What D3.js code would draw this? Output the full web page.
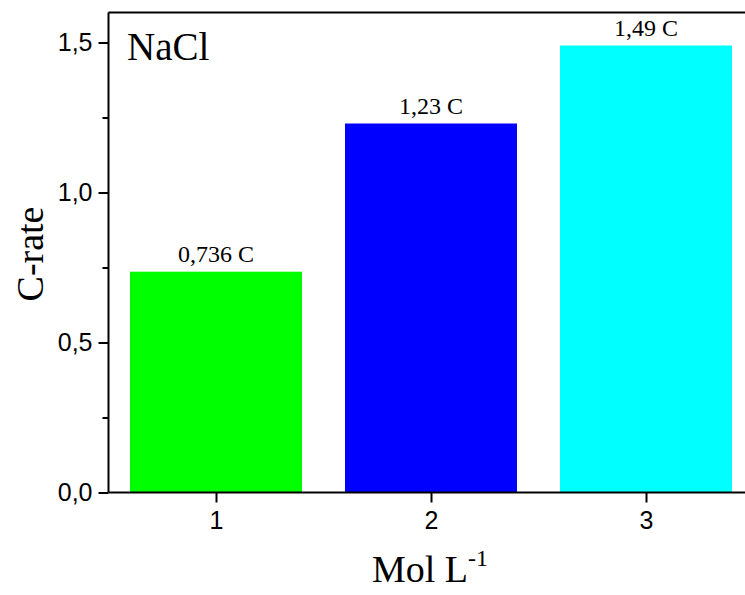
<!DOCTYPE html>
<html>
<head>
<meta charset="utf-8">
<script src="https://cdn.jsdelivr.net/npm/d3@7"></script>
<style>
  html, body { margin: 0; padding: 0; background: #fff; }
  svg { display: block; }
</style>
</head>
<body>
<svg id="chart" width="745" height="595"></svg>
<script>
// Concentrations (mol/L) and the measured C-rate for each
const categories = [1, 2, 3];
const cRates = [0.736, 1.23, 1.49];
const barLabels = ["0,736 C", "1,23 C", "1,49 C"];
const barColors = ["#00ff00", "#0000ff", "#00ffff"];
const yTicks = [0, 0.5, 1.0, 1.5];
const yMinorTicks = [0.25, 0.75, 1.25];
const yTickLabels = ["0,0", "0,5", "1,0", "1,5"];

const svg = d3.select("#chart");
const serif = "'Liberation Serif', 'Times New Roman', serif";
const sans = "'Liberation Sans', Arial, sans-serif";

const x = d3.scaleLinear().domain([0.5, 3.5]).range([108.5, 753.5]);
const y = d3.scaleLinear().domain([0, 1.6]).range([492.5, 12.5]);

// Bars
svg.append("g").selectAll("rect")
  .data(categories)
  .join("rect")
  .attr("x", (d) => x(d - 0.4))
  .attr("width", (d) => x(d + 0.4) - x(d - 0.4))
  .attr("y", (d, i) => y(cRates[i]))
  .attr("height", (d, i) => y(0) - y(cRates[i]))
  .attr("fill", (d, i) => barColors[i]);

// Value labels above the bars
svg.append("g").selectAll("text")
  .data(categories)
  .join("text")
  .attr("x", (d) => x(d))
  .attr("y", (d, i) => y(cRates[i]) - 10)
  .attr("text-anchor", "middle")
  .attr("font-family", serif)
  .attr("font-size", 24)
  .attr("fill", "#000")
  .text((d, i) => barLabels[i]);

// Frame: top border
svg.append("line")
  .attr("x1", x(0.5)).attr("x2", x(3.5))
  .attr("y1", y(1.6)).attr("y2", y(1.6))
  .attr("stroke", "#000").attr("stroke-width", 2);

// Left axis with major and minor ticks
const yAxis = svg.append("g")
  .attr("transform", `translate(${x(0.5)},0)`)
  .call(d3.axisLeft(y).tickValues(yTicks).tickSize(10).tickPadding(6)
    .tickFormat((d, i) => yTickLabels[i]));
svg.append("g")
  .attr("transform", `translate(${x(0.5)},0)`)
  .call(d3.axisLeft(y).tickValues(yMinorTicks).tickSize(6).tickFormat(""))
  .call((g) => g.select(".domain").remove());

// Bottom axis
const xAxis = svg.append("g")
  .attr("transform", `translate(0,${y(0)})`)
  .call(d3.axisBottom(x).tickValues(categories).tickSize(10).tickPadding(9)
    .tickFormat(d3.format("d")));

svg.selectAll(".domain, .tick line")
  .attr("stroke", "#000").attr("stroke-width", 2);
svg.selectAll(".tick text")
  .attr("font-family", sans).attr("font-size", 25).attr("fill", "#000");
xAxis.select(".domain").attr("d", `M${x(0.5)},0H${x(3.5)}`);
yAxis.select(".domain").attr("d", `M0,${y(0)}V${y(1.6)}`);

// Series name inside the plot
svg.append("text")
  .attr("x", 127).attr("y", 60)
  .attr("font-family", serif).attr("font-size", 39)
  .text("NaCl");

// Axis titles
svg.append("text")
  .attr("transform", "translate(43,254) rotate(-90)")
  .attr("text-anchor", "middle")
  .attr("font-family", serif).attr("font-size", 38)
  .text("C-rate");

const xTitle = svg.append("text")
  .attr("x", 430).attr("y", 582)
  .attr("text-anchor", "middle")
  .attr("font-family", serif).attr("font-size", 38);
xTitle.append("tspan").text("Mol L");
xTitle.append("tspan").attr("dy", -16).attr("font-size", 24).text("-1");
</script>
</body>
</html>
